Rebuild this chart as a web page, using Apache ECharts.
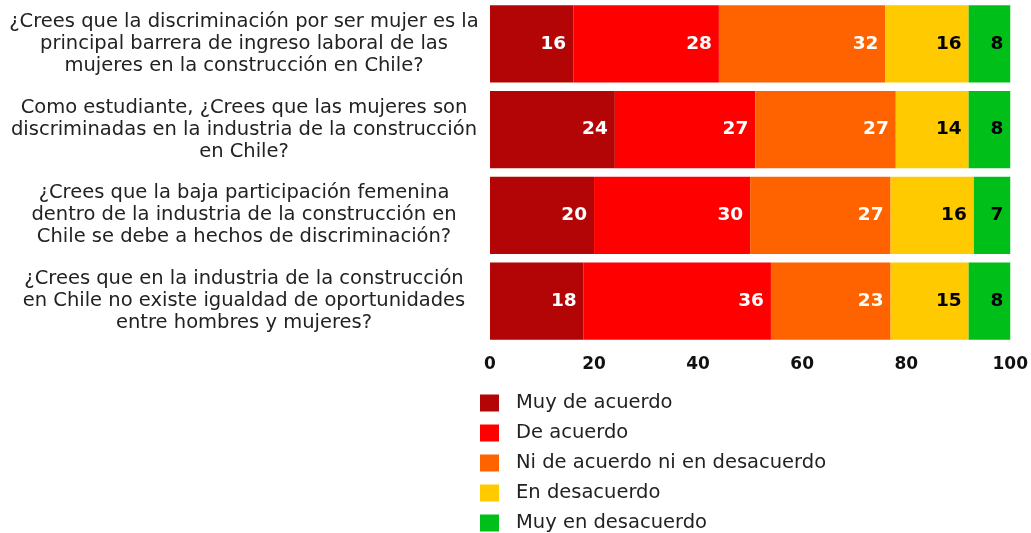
<!DOCTYPE html>
<html>
<head>
<meta charset="utf-8">
<script src="https://cdn.jsdelivr.net/npm/echarts@6/dist/echarts.min.js"></script>
<style>
  html, body { margin: 0; padding: 0; background: #fff; }
  #chart { width: 1031px; height: 533px; }
</style>
</head>
<body>
<div id="chart"></div>
<script>
// preguntas (de arriba hacia abajo)
const questions = [
  '¿Crees que la discriminación por ser mujer es la\nprincipal barrera de ingreso laboral de las\nmujeres en la construcción en Chile?',
  'Como estudiante, ¿Crees que las mujeres son\ndiscriminadas en la industria de la construcción\nen Chile?',
  '¿Crees que la baja participación femenina\ndentro de la industria de la construcción en\nChile se debe a hechos de discriminación?',
  '¿Crees que en la industria de la construcción\nen Chile no existe igualdad de oportunidades\nentre hombres y mujeres?'
];

const seriesNames = ['Muy de acuerdo', 'De acuerdo', 'Ni de acuerdo ni en desacuerdo', 'En desacuerdo', 'Muy en desacuerdo'];
const muyDeAcuerdo = [16, 24, 20, 18];
const deAcuerdo = [28, 27, 30, 36];
const ninguno = [32, 27, 27, 23];
const enDesacuerdo = [16, 14, 16, 15];
const muyEnDesacuerdo = [8, 8, 7, 8];

const colors = ['#b30505', '#ff0000', '#ff6300', '#ffcb00', '#00bf19'];
const labelColors = ['#fff', '#fff', '#fff', '#000', '#000'];

const chart = echarts.init(document.getElementById('chart'));
const font = '"DejaVu Sans", sans-serif';

const values = [muyDeAcuerdo, deAcuerdo, ninguno, enDesacuerdo, muyEnDesacuerdo];

const option = {
  animation: false,
  color: colors,
  textStyle: { fontFamily: font },
  grid: { left: 490, right: 18, top: 1, bottom: 189 },
  legend: {
    orient: 'vertical',
    left: 480,
    top: 393,
    padding: 0,
    height: 160,
    icon: 'rect',
    itemWidth: 19,
    itemHeight: 17,
    itemGap: 10,
    data: seriesNames,
    textStyle: { fontSize: 19.5, color: '#222', fontFamily: font, padding: [0, 0, 0, 12], lineHeight: 18 }
  },
  xAxis: {
    type: 'value',
    min: 0,
    max: 100,
    interval: 20,
    splitLine: { show: false },
    axisLine: { show: false },
    axisTick: { show: false },
    axisLabel: { color: '#111', fontSize: 17, fontWeight: 'bold', margin: 12, fontFamily: font }
  },
  yAxis: {
    type: 'category',
    inverse: true,
    data: questions,
    axisLine: { show: false },
    axisTick: { show: false },
    axisLabel: {
      color: '#222',
      fontSize: 19.5,
      lineHeight: 22,
      align: 'center',
      margin: 246,
      fontFamily: font
    }
  },
  series: seriesNames.map((name, i) => ({
    name: name,
    type: 'bar',
    stack: 'total',
    barWidth: '90%',
    data: values[i],
    label: {
      show: true,
      position: 'insideRight',
      distance: 7,
      color: labelColors[i],
      fontSize: 18.5,
      fontWeight: 'bold',
      fontFamily: font
    }
  }))
};

chart.setOption(option);
</script>
</body>
</html>
